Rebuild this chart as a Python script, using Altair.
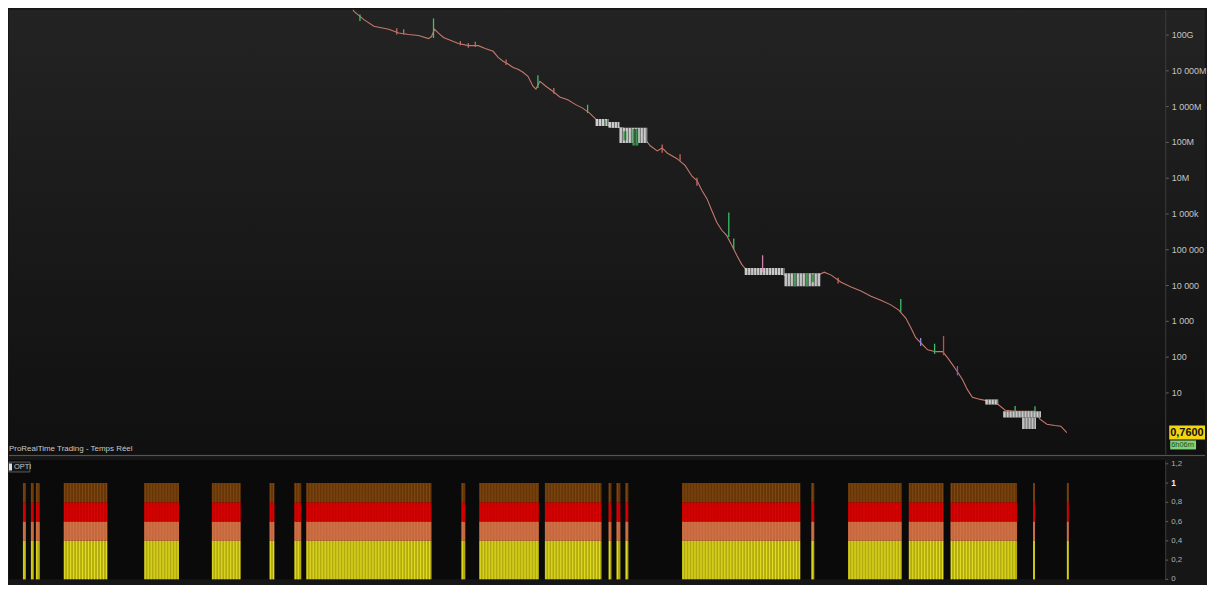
import altair as alt
import pandas as pd

# ---------------- data ----------------
price_t = [350, 355, 365, 375, 390, 400, 410, 420, 430, 433, 436, 440, 445, 450, 460, 470, 480, 487,
           495, 500, 505, 510, 515, 520, 525, 530, 535, 538, 542, 548, 555, 562, 570, 578, 585, 592,
           598, 605, 615, 625, 635, 645, 653, 660, 665, 670, 680, 688, 695, 700, 705, 710, 715, 720,
           725, 730, 735, 740, 745, 750, 760, 770, 780, 790, 800, 810, 820, 828, 835, 845, 855, 865,
           875, 885, 895, 903, 910, 915, 920, 925, 932, 940, 947, 952, 957, 962, 967, 972, 977, 985,
           995, 1003, 1010, 1020, 1030, 1040, 1045, 1052, 1060, 1066, 1072]
price_close = [9.0e11, 4.4e11, 2.6e11, 1.7e11, 1.4e11, 1.1e11, 1.0e11, 9.4e10, 7.7e10, 8.8e10, 1.4e11,
               1.1e11, 8.3e10, 7.3e10, 5.6e10, 4.9e10, 4.9e10, 4.1e10, 3.4e10, 2.3e10, 1.8e10, 1.5e10,
               1.2e10, 1.07e10, 8.8e9, 6.8e9, 3.6e9, 3.0e9, 4.9e9, 3.6e9, 2.6e9, 1.8e9, 1.5e9, 1.1e9,
               8.8e8, 6.4e8, 4.4e8, 3.2e8, 2.6e8, 2.5e8, 2.0e8, 1.5e8, 7.8e7, 5.6e7, 6.8e7, 4.9e7,
               3.4e7, 2.2e7, 1.1e7, 8.3e6, 4.4e6, 2.6e6, 1.2e6, 5.6e5, 3.4e5, 2.4e5, 1.3e5, 6.8e4,
               3.8e4, 2.6e4, 2.6e4, 2.3e4, 2.3e4, 1.8e4, 1.8e4, 1.8e4, 1.8e4, 2.3e4, 1.9e4, 1.2e4,
               8.8e3, 6.8e3, 4.9e3, 3.8e3, 2.8e3, 2.0e3, 1.2e3, 650, 340, 245, 156, 138, 138, 94, 60,
               38, 23, 12, 7.3, 6.4, 5.6, 4.6, 3.2, 3.0, 3.0, 3.0, 1.8, 1.3, 1.2, 1.14, 0.76]

# candle wicks (green = up, red = down)
spike_t = [361, 398, 405, 435, 462, 470, 477, 508, 540, 556, 590, 608, 665, 683, 700, 732, 737,
           766, 842, 905, 925, 939, 948, 962, 1020, 1040]
spike_low = [2.4e11, 1.0e11, 1.0e11, 8.0e10, 5.0e10, 4.3e10, 4.5e10, 1.4e10, 3.2e9, 2.2e9, 6.4e8,
             2.8e8, 5.0e7, 3.0e7, 6.0e6, 2.2e5, 1.0e5, 2.3e4, 1.1e4, 1.8e3, 200, 120, 110, 30, 2.8, 2.8]
spike_high = [3.6e11, 1.5e11, 1.4e11, 2.8e11, 6.6e10, 5.8e10, 6.3e10, 2.0e10, 7.3e9, 3.2e9, 1.1e9,
              4.0e8, 8.5e7, 4.5e7, 1.0e7, 1.07e6, 2.0e5, 6.8e4, 1.6e4, 4.1e3, 330, 230, 380, 55, 4.2, 4.1]
spike_color = ["#3fbf6a", "#c86a62", "#c86a62", "#3fbf6a", "#c86a62", "#c86a62", "#c86a62",
               "#c86a62", "#3fbf6a", "#c86a62", "#3fbf6a", "#3fbf6a", "#c86a62", "#c86a62",
               "#c86a62", "#3fbf6a", "#3fbf6a", "#d080a8", "#c86a62", "#3fbf6a", "#8a8ad8",
               "#3fbf6a", "#d04848", "#7a5ad0", "#3fbf6a", "#3fbf6a"]

# consolidation zones drawn as blocks of candle bodies
box_t1 = [598, 611, 622, 626, 635, 748, 788, 797, 809, 815, 990, 1008, 1027, 1031]
box_t2 = [611, 622, 650, 629, 641, 788, 824, 800, 812, 818, 1003, 1046, 1041, 1034]
box_low = [2.8e8, 2.5e8, 9.3e7, 1.1e8, 8.0e7, 1.9e4, 9.3e3, 9.3e3, 9.3e3, 1.2e4, 4.6, 2.0, 0.95, 0.95]
box_high = [4.4e8, 3.6e8, 2.5e8, 2.0e8, 2.3e8, 3.0e4, 2.15e4, 2.15e4, 2.15e4, 2.0e4, 6.4, 3.0, 2.0, 2.0]
box_color = ["#dcdcdc", "#dcdcdc", "#d8d8d8", "#3e9a52", "#3e9a52", "#d8d8d8", "#d4d4d4",
             "#3e9a52", "#3e9a52", "#3e9a52", "#d8d8d8", "#d8d8d8", "#cfcfcf", "#b8b8b8"]

# OPTI indicator: runs of bars where it equals 1
opti_start = [22, 30, 35, 63, 144, 212, 270, 295, 307, 463, 481, 547, 611, 619, 628, 685, 815,
              852, 913, 955, 1038, 1072]
opti_end = [25, 33, 39, 107, 179, 241, 275, 302, 433, 467, 541, 604, 614, 623, 631, 804, 818,
            906, 948, 1022, 1040, 1074]
band_lo = [0.0, 0.4, 0.6, 0.8]
band_hi = [0.4, 0.6, 0.8, 1.0]
band_color = ["#b2ac10", "#c6673e", "#c80000", "#683606"]
band_light = ["#e2dc22", "#cf7448", "#d60404", "#7c4814"]
BAR_STEP = 3  # spacing of one bar in time units

price_ticks = [1e1, 1e2, 1e3, 1e4, 1e5, 1e6, 1e7, 1e8, 1e9, 1e10, 1e11]
price_tick_labels = ["10", "100", "1 000", "10 000", "100 000", "1 000k", "10M", "100M",
                     "1 000M", "10 000M", "100G"]
osc_ticks = [0, 0.2, 0.4, 0.6, 0.8, 1.0, 1.2]
osc_tick_labels = ["0", "0,2", "0,4", "0,6", "0,8", "1", "1,2"]
osc_tick_bold = [False, False, False, False, False, True, False]

last_price = 0.76
last_price_label = "0,7600"
timer_label = "6h06m"
title_text = "ProRealTime Trading - Temps Réel"
ind_name = "OPTI"

# ---------------- layout ----------------
W = 1163
H1 = 447
H2 = 120
AX = 40
X_DOM = [8, 1171]
Y_DOM = [0.19, 4.95e11]
Y2_DOM = [0, 1.239]
FONT = "Liberation Sans"

xs = alt.Scale(domain=X_DOM)
ys = alt.Scale(type="log", domain=Y_DOM)

expr = "''"
for v, lab in reversed(list(zip(price_ticks, price_tick_labels))):
    expr = f"datum.value < {v * 3.1623} ? '{lab}' : ({expr})"

price_axis = alt.Axis(orient="right", values=price_ticks, labelExpr=expr, grid=False, zindex=1,
                      domainColor="#3c3c3c", tickColor="#666666", tickSize=3, labelPadding=3,
                      labelColor="#c4c4c4", labelFontSize=9, labelFont=FONT, labelOverlap=False,
                      title=None)

one = pd.DataFrame({"a": [0]})
price_df = pd.DataFrame({"t": price_t, "close": price_close})
spike_df = pd.DataFrame({"t": spike_t, "lo": spike_low, "hi": spike_high, "c": spike_color})
box_df = pd.DataFrame({"t1": box_t1, "t2": box_t2, "lo": box_low, "hi": box_high, "c": box_color})
box_gap_rows = []
for t1, t2, lo, hi in zip(box_t1, box_t2, box_low, box_high):
    for t in range(t1 + BAR_STEP, t2, BAR_STEP):
        box_gap_rows.append({"t": t, "lo": lo, "hi": hi})
box_gap_df = pd.DataFrame(box_gap_rows)

bg_top = alt.Chart(one).mark_rect(
    color=alt.Gradient(gradient="linear", x1=0, x2=0, y1=0, y2=1,
                       stops=[alt.GradientStop(color="#232323", offset=0),
                              alt.GradientStop(color="#101010", offset=1)])
).encode(x=alt.value(0), x2=alt.value(W + AX), y=alt.value(0), y2=alt.value(H1))

line = alt.Chart(price_df).mark_line(color="#c4786e", strokeWidth=1.1, clip=True).encode(
    x=alt.X("t:Q", scale=xs, axis=None),
    y=alt.Y("close:Q", scale=ys, axis=price_axis),
)
spikes = alt.Chart(spike_df).mark_rule(strokeWidth=1.3, clip=True).encode(
    x=alt.X("t:Q", scale=xs), y=alt.Y("lo:Q", scale=ys), y2="hi:Q",
    color=alt.Color("c:N", scale=None),
)
boxes = alt.Chart(box_df).mark_rect(clip=True, opacity=0.92).encode(
    x=alt.X("t1:Q", scale=xs), x2="t2:Q", y=alt.Y("lo:Q", scale=ys), y2="hi:Q",
    color=alt.Color("c:N", scale=None),
)
box_gaps = alt.Chart(box_gap_df).mark_rule(color="#202020", strokeWidth=0.8, opacity=0.7, clip=True).encode(
    x=alt.X("t:Q", scale=xs), y=alt.Y("lo:Q", scale=ys), y2="hi:Q")

tag_df = pd.DataFrame({"p": [last_price]})
tag_box = alt.Chart(tag_df).mark_rect(color="#f2d410", yOffset=-7, y2Offset=7).encode(
    x=alt.value(W + 4), x2=alt.value(W + AX), y=alt.Y("p:Q", scale=ys), y2="p:Q")
tag_txt = alt.Chart(tag_df).mark_text(text=last_price_label, color="#111111", fontSize=11,
                                      fontWeight="bold", font=FONT, align="left",
                                      baseline="middle").encode(
    x=alt.value(W + 5), y=alt.Y("p:Q", scale=ys))
tim_box = alt.Chart(tag_df).mark_rect(color="#7fd27a", yOffset=8, y2Offset=17).encode(
    x=alt.value(W + 5), x2=alt.value(W + 31), y=alt.Y("p:Q", scale=ys), y2="p:Q")
tim_txt = alt.Chart(tag_df).mark_text(text=timer_label, color="#1d4d1d", fontSize=7.5, font=FONT,
                                      align="left", baseline="middle", dy=12.5).encode(
    x=alt.value(W + 6), y=alt.Y("p:Q", scale=ys))
title = alt.Chart(one).mark_text(text=title_text, color="#c8c8c8", fontSize=8, font=FONT,
                                 align="left", baseline="bottom").encode(
    x=alt.value(0), y=alt.value(H1 - 1))
sep = alt.Chart(one).mark_rule(color="#5a5a5a", strokeWidth=1).encode(
    x=alt.value(0), x2=alt.value(W + AX), y=alt.value(H1 + 1.5))

top = alt.layer(bg_top, line, boxes, box_gaps, spikes, tag_box, tag_txt, tim_box, tim_txt,
                title, sep).properties(width=W, height=H1)

# ---------------- oscillator panel ----------------
rows = []
stripe_rows = []
for s, e in zip(opti_start, opti_end):
    for lo, hi, c, cl in zip(band_lo, band_hi, band_color, band_light):
        rows.append({"s": s, "e": e, "lo": lo, "hi": hi, "c": c})
        for t in range(s + 1, e, BAR_STEP):
            stripe_rows.append({"t": t, "lo": lo, "hi": hi, "c": cl})
bar_df = pd.DataFrame(rows)
stripe_df = pd.DataFrame(stripe_rows)
osc_df = pd.DataFrame({"v": osc_ticks, "lab": osc_tick_labels, "bold": osc_tick_bold})

ys2 = alt.Scale(domain=Y2_DOM)
osc_axis = alt.Axis(orient="right", labels=False, ticks=False, grid=False, zindex=1,
                    domainColor="#3c3c3c", title=None)

bg_bot = alt.Chart(one).mark_rect(color="#0a0a0a").encode(
    x=alt.value(0), x2=alt.value(W), y=alt.value(0), y2=alt.value(H2))
bars = alt.Chart(bar_df).mark_rect().encode(
    x=alt.X("s:Q", scale=xs, axis=None), x2="e:Q",
    y=alt.Y("lo:Q", scale=ys2, axis=osc_axis), y2="hi:Q",
    color=alt.Color("c:N", scale=None),
)
stripes = alt.Chart(stripe_df).mark_rule(strokeWidth=1.1).encode(
    x=alt.X("t:Q", scale=xs), y=alt.Y("lo:Q", scale=ys2), y2="hi:Q",
    color=alt.Color("c:N", scale=None),
)
osc_ticks_m = alt.Chart(osc_df).mark_rule(color="#666666").encode(
    x=alt.value(W), x2=alt.value(W + 3), y=alt.Y("v:Q", scale=ys2))
osc_lab = alt.Chart(osc_df).transform_filter("!datum.bold").mark_text(
    color="#b0b0b0", fontSize=8, font=FONT, align="left", baseline="middle").encode(
    x=alt.value(W + 6), y=alt.Y("v:Q", scale=ys2), text="lab:N")
osc_lab_b = alt.Chart(osc_df).transform_filter("datum.bold").mark_text(
    color="#f0f0f0", fontSize=8.5, fontWeight="bold", font=FONT, align="left",
    baseline="middle").encode(
    x=alt.value(W + 6), y=alt.Y("v:Q", scale=ys2), text="lab:N")
opti_box = alt.Chart(one).mark_rect(color="#161616", stroke="#5a5a5a", strokeWidth=1).encode(
    x=alt.value(0), x2=alt.value(21), y=alt.value(2), y2=alt.value(12))
opti_icon = alt.Chart(one).mark_rect(color="#dddddd").encode(
    x=alt.value(0), x2=alt.value(3), y=alt.value(3.5), y2=alt.value(10.5))
opti_txt = alt.Chart(one).mark_text(text=ind_name, color="#c8c8c8", fontSize=7.5, font=FONT,
                                    align="left", baseline="middle").encode(
    x=alt.value(5), y=alt.value(7.5))

bottom = alt.layer(bg_bot, bars, stripes, osc_ticks_m, osc_lab, osc_lab_b, opti_box, opti_icon,
                   opti_txt).properties(width=W, height=H2)

chart = alt.vconcat(top, bottom, spacing=3).properties(
    padding={"left": 0, "top": 0, "right": 0, "bottom": 0},
    background="#161616",
).configure_view(stroke=None)

chart.save("out.html", embed_options={"renderer": "svg", "actions": False})
